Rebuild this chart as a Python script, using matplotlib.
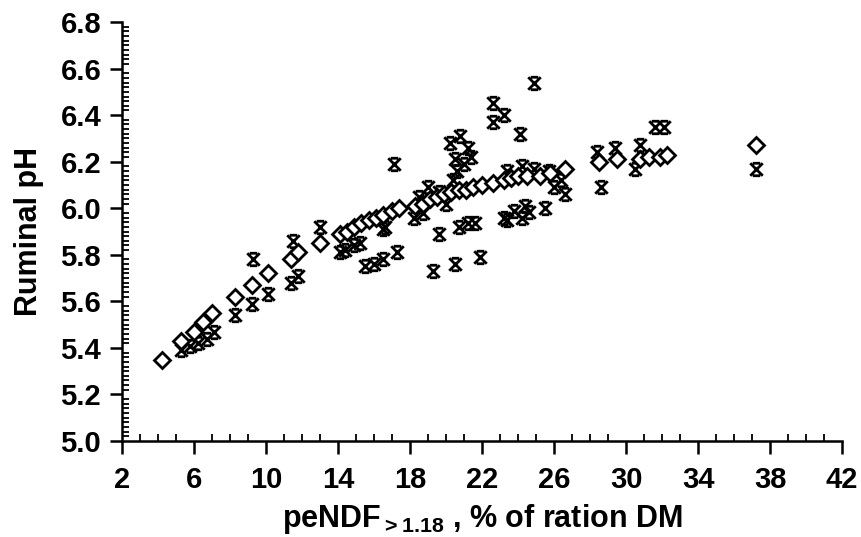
import matplotlib
matplotlib.use("Agg")
import matplotlib.pyplot as plt
from matplotlib.path import Path
from matplotlib.ticker import MultipleLocator

plt.rcParams['font.family'] = ['Liberation Sans', 'DejaVu Sans']
plt.rcParams['mathtext.fontset'] = 'custom'
plt.rcParams['mathtext.rm'] = 'Liberation Sans:bold'
plt.rcParams['mathtext.bf'] = 'Liberation Sans:bold'
plt.rcParams['mathtext.default'] = 'bf'

# predicted ruminal pH (open diamonds)
pred_x = [4.2, 5.3, 6.0, 6.5, 7.0, 8.3, 9.2, 10.1, 11.4, 11.8, 13.0, 14.1, 14.5,
          14.9, 15.3, 15.7, 16.1, 16.5, 17.0, 17.4, 18.3, 18.7, 19.1, 19.5, 19.9,
          20.3, 20.7, 21.1, 21.5, 22.0, 22.6, 23.2, 23.6, 24.0, 24.5, 25.2, 25.8,
          26.6, 28.5, 29.5, 30.8, 31.3, 31.9, 32.3, 37.2]
pred_y = [5.35, 5.43, 5.47, 5.51, 5.55, 5.62, 5.67, 5.72, 5.78, 5.81, 5.85, 5.89, 5.90,
          5.92, 5.935, 5.95, 5.96, 5.97, 5.99, 6.00, 6.01, 6.02, 6.04, 6.05, 6.06,
          6.07, 6.08, 6.08, 6.09, 6.10, 6.11, 6.12, 6.13, 6.14, 6.14, 6.14, 6.15,
          6.17, 6.20, 6.21, 6.21, 6.22, 6.22, 6.23, 6.27]

# observed ruminal pH (capped crosses)
obs_x = [5.3, 5.8, 6.2, 6.7, 7.1, 8.3, 9.2, 9.3, 10.1, 11.4, 11.8, 11.5, 13.0,
         14.1, 14.4, 14.9, 15.2, 15.5, 16.0, 16.5, 16.6, 16.5, 17.1, 17.3, 18.2,
         18.7, 18.5, 19.0, 19.3, 19.6, 19.6, 20.0, 20.2, 20.5, 20.6, 20.8, 21.0,
         21.2, 21.4, 20.4, 20.5, 20.7, 21.2, 21.6, 21.9, 22.6, 23.2, 22.6, 24.1,
         24.9, 23.2, 23.4, 23.8, 24.2, 24.4, 24.6, 25.5, 25.7, 26.0, 26.4, 26.6,
         23.4, 24.2, 24.9, 28.4, 28.6, 29.4, 30.5, 30.8, 31.6, 32.1, 37.2]
obs_y = [5.39, 5.41, 5.42, 5.44, 5.47, 5.54, 5.59, 5.78, 5.63, 5.68, 5.71, 5.86, 5.92,
         5.81, 5.82, 5.84, 5.85, 5.75, 5.76, 5.78, 5.92, 5.91, 6.19, 5.81, 5.96,
         5.98, 6.05, 6.09, 5.73, 5.89, 6.07, 6.02, 6.28, 6.21, 6.16, 6.31, 6.19,
         6.26, 6.22, 6.12, 5.76, 5.92, 5.935, 5.935, 5.79, 6.45, 6.40, 6.37, 6.32,
         6.54, 5.96, 5.95, 5.99, 5.96, 6.01, 5.985, 6.00, 6.16, 6.09, 6.12, 6.06,
         6.16, 6.18, 6.17, 6.24, 6.09, 6.26, 6.17, 6.27, 6.35, 6.35, 6.17]

x_ticks = [2, 6, 10, 14, 18, 22, 26, 30, 34, 38, 42]
y_ticks = [5.0, 5.2, 5.4, 5.6, 5.8, 6.0, 6.2, 6.4, 6.6, 6.8]

# cross with horizontal caps, like the original marker
cap = 0.6
verts = [(-1, -1), (1, 1), (-1, 1), (1, -1),
         (-cap, 1), (cap, 1), (-cap, -1), (cap, -1)]
codes = [Path.MOVETO, Path.LINETO] * 4
capped_x = Path(verts, codes)

fig = plt.figure(figsize=(8.61, 5.37), dpi=100)
ax = fig.add_axes([0.1417, 0.1788, 0.8363, 0.7802])

ax.plot(obs_x, obs_y, linestyle="none", marker=capped_x, markersize=9,
        markeredgecolor="black", markerfacecolor="none", markeredgewidth=2)
ax.plot(pred_x, pred_y, linestyle="none", marker="D", markersize=8.5,
        markeredgecolor="black", markerfacecolor="white", markeredgewidth=2)

ax.set_xlim(2, 42)
ax.set_ylim(5.0, 6.8)
ax.set_xticks(x_ticks)
ax.set_xticklabels([str(v) for v in x_ticks])
ax.set_yticks(y_ticks)
ax.set_yticklabels([f"{v:.1f}" for v in y_ticks])
ax.xaxis.set_minor_locator(MultipleLocator(1))
ax.yaxis.set_minor_locator(MultipleLocator(0.02))

for side in ["top", "right"]:
    ax.spines[side].set_visible(False)
for side in ["left", "bottom"]:
    ax.spines[side].set_linewidth(1.8)

ax.tick_params(which="major", direction="out", length=9, width=1.8,
               labelsize=21)
ax.tick_params(axis="x", which="major", pad=9)
ax.tick_params(axis="y", which="major", pad=6)
ax.tick_params(which="minor", direction="in", length=5, width=1.3)
for lab in ax.get_xticklabels() + ax.get_yticklabels():
    lab.set_fontweight("bold")

ax.set_xlabel(r"peNDF$_{{>}1.18}$ , % of ration DM", fontsize=22,
              fontweight="bold", labelpad=6)
ax.set_ylabel("Ruminal pH", fontsize=22, fontweight="bold", labelpad=12)

fig.savefig("out.png", dpi=100)
